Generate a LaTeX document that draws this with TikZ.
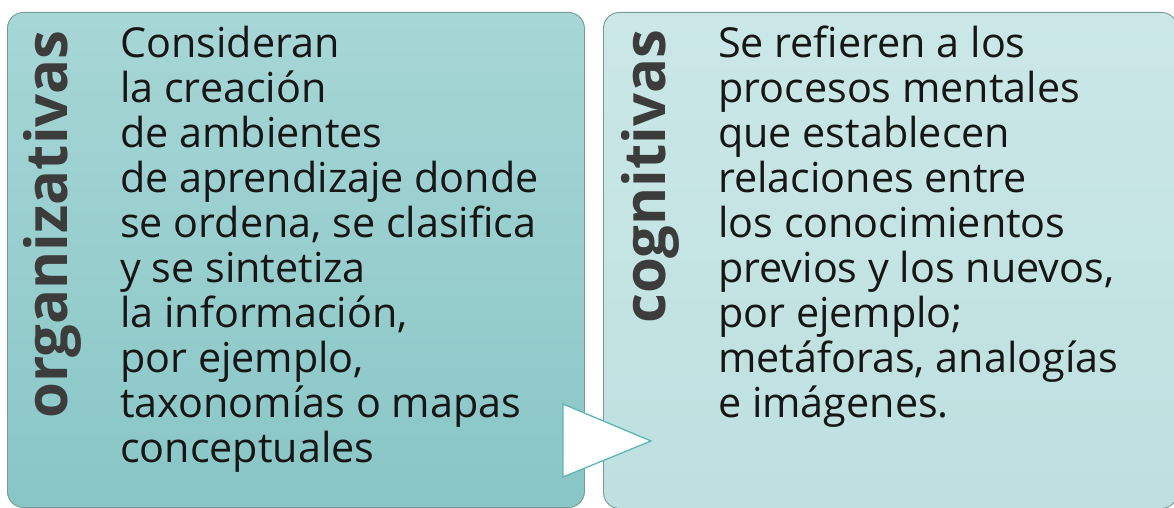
\documentclass[tikz,border=0pt]{standalone}
\usepackage{fontspec}
\setmainfont{Open Sans}
\definecolor{lefttop}{HTML}{A7D6D6}
\definecolor{leftbot}{HTML}{89C6C6}
\definecolor{righttop}{HTML}{CBE7E7}
\definecolor{rightbot}{HTML}{BEE0E0}
\definecolor{edgegray}{HTML}{76999A}
\definecolor{labelgray}{HTML}{3C3C3C}
\definecolor{arrowedge}{HTML}{5DB5B5}
\definecolor{bodyink}{HTML}{161616}
\begin{document}
\begin{tikzpicture}[x=1pt,y=-1pt,
  panel/.style={draw=edgegray, line width=0.9pt, rounded corners=16pt, inner sep=0pt, anchor=north west},
  bodytext/.style={anchor=base west, inner sep=0pt, text=bodyink, font=\fontsize{41.3}{44.9}\selectfont},
  sidelabel/.style={rotate=90, anchor=base west, inner sep=0pt, text=labelgray, font=\bfseries\fontsize{58}{60}\selectfont}]
\useasboundingbox (0,0) rectangle (1174,508);
\node[panel, top color=righttop, bottom color=rightbot, minimum width=574pt, minimum height=496pt] (rightbox) at (603,12) {};
\node[panel, top color=lefttop, bottom color=leftbot, minimum width=577pt, minimum height=495pt] (leftbox) at (7,12) {};
\coordinate (tA) at (563,404);
\coordinate (tB) at (651,441);
\coordinate (tC) at (563,477);
\draw[fill=white, draw=arrowedge, line width=1.3pt, line join=miter] (tA) -- (tB) -- (tC) -- cycle;
\node[sidelabel] (leftlabel) at (67,419) {organizativas};
\node[sidelabel] (rightlabel) at (665,324) {cognitivas};
\node[bodytext] (lefttext) at (120,58) {\vtop{\halign{#\hfil\cr
Consideran\cr
la creación\cr
de ambientes\cr
de aprendizaje donde\cr
se ordena, se clasifica\cr
y se sintetiza\cr
la información,\cr
por ejemplo,\cr
taxonomías o mapas\cr
conceptuales\cr}}};
\node[bodytext] (righttext) at (718,58) {\vtop{\halign{#\hfil\cr
Se refieren a los\cr
procesos mentales\cr
que establecen\cr
relaciones entre\cr
los conocimientos\cr
previos y los nuevos,\cr
por ejemplo;\cr
metáforas, analogías\cr
e imágenes.\cr}}};
\end{tikzpicture}
\end{document}
